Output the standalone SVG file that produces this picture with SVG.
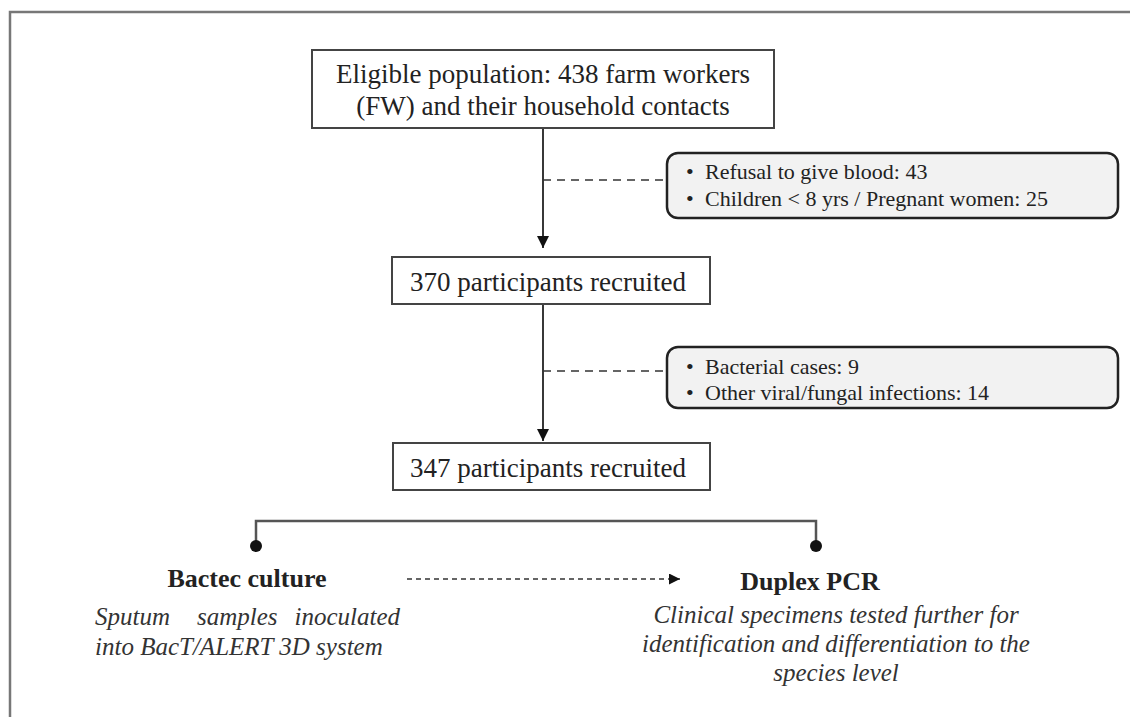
<svg xmlns="http://www.w3.org/2000/svg" width="1130" height="717" viewBox="0 0 1130 717">
<defs>
<style>
.t{font-family:"Liberation Serif","Times New Roman",serif;fill:#222}
.box{fill:#fff;stroke:#444;stroke-width:2}
.rbox{fill:#f2f2f2;stroke:#222;stroke-width:2.5}
.ln{stroke:#222;stroke-width:1.8;fill:none}
.dash{stroke:#333;stroke-width:1.6;stroke-dasharray:8 6;fill:none}
.main{font-size:27px}
.bul{font-size:22px}
.hd{font-size:26px;font-weight:bold}
.it{font-size:25px;font-style:italic;fill:#333}
</style>
<marker id="arr" viewBox="0 0 10 10" refX="10" refY="5" markerWidth="12" markerHeight="12" markerUnits="userSpaceOnUse" orient="auto">
<path d="M0,0 L10,5 L0,10 Z" fill="#111"/>
</marker>
<marker id="arr2" viewBox="0 0 10 10" refX="10" refY="5" markerWidth="12" markerHeight="11" markerUnits="userSpaceOnUse" orient="auto">
<path d="M0,0 L10,5 L0,10 Z" fill="#111"/>
</marker>
</defs>
<rect width="1130" height="717" fill="#fff"/>
<rect x="10" y="12" width="1140" height="720" fill="none" stroke="#777" stroke-width="2.5"/>

<g id="connectors">
<line class="ln" x1="543" y1="128" x2="543" y2="248" marker-end="url(#arr)"/>
<line class="dash" x1="543" y1="180" x2="667" y2="180"/>
<line class="ln" x1="543" y1="304" x2="543" y2="441" marker-end="url(#arr)"/>
<line class="dash" x1="543" y1="371" x2="667" y2="371"/>
<path d="M256,546 V521 H816 V546" fill="none" stroke="#555" stroke-width="2.5"/>
<circle cx="256" cy="546" r="6" fill="#111"/>
<circle cx="816" cy="546" r="6" fill="#111"/>
<line x1="407" y1="579" x2="680" y2="579" stroke="#333" stroke-width="1.6" stroke-dasharray="5 4" marker-end="url(#arr2)"/>
</g>

<g id="eligible">
<rect class="box" x="312" y="50" width="462" height="78"/>
<text class="t main" x="543" y="83" text-anchor="middle">Eligible population: 438 farm workers</text>
<text class="t main" x="543" y="115" text-anchor="middle">(FW) and their household contacts</text>
</g>

<g id="excl1">
<rect class="rbox" x="667" y="153" width="451" height="65" rx="11"/>
<text class="t bul" x="686" y="179">•</text>
<text class="t bul" x="705" y="179">Refusal to give blood: 43</text>
<text class="t bul" x="686" y="206">•</text>
<text class="t bul" x="705" y="206">Children &lt; 8 yrs / Pregnant women: 25</text>
</g>

<g id="recruited370">
<rect class="box" x="392" y="257" width="318" height="47"/>
<text class="t main" x="548" y="291" text-anchor="middle">370 participants recruited</text>
</g>

<g id="excl2">
<rect class="rbox" x="667" y="347" width="451" height="61" rx="11"/>
<text class="t bul" x="686" y="374">•</text>
<text class="t bul" x="705" y="374">Bacterial cases: 9</text>
<text class="t bul" x="686" y="400">•</text>
<text class="t bul" x="705" y="400">Other viral/fungal infections: 14</text>
</g>

<g id="recruited347">
<rect class="box" x="393" y="443" width="317" height="47"/>
<text class="t main" x="548" y="477" text-anchor="middle">347 participants recruited</text>
</g>

<g id="bactec">
<text class="t hd" x="247" y="587" text-anchor="middle">Bactec culture</text>
<text class="t it" x="95" y="625">Sputum</text>
<text class="t it" x="197" y="625">samples</text>
<text class="t it" x="400" y="625" text-anchor="end">inoculated</text>
<text class="t it" x="95" y="655">into BacT/ALERT 3D system</text>
</g>

<g id="duplex">
<text class="t hd" x="810" y="590" text-anchor="middle">Duplex PCR</text>
<text class="t it" x="836" y="623" text-anchor="middle">Clinical specimens tested further for</text>
<text class="t it" x="836" y="652" text-anchor="middle">identification and differentiation to the</text>
<text class="t it" x="836" y="681" text-anchor="middle">species level</text>
</g>
</svg>
